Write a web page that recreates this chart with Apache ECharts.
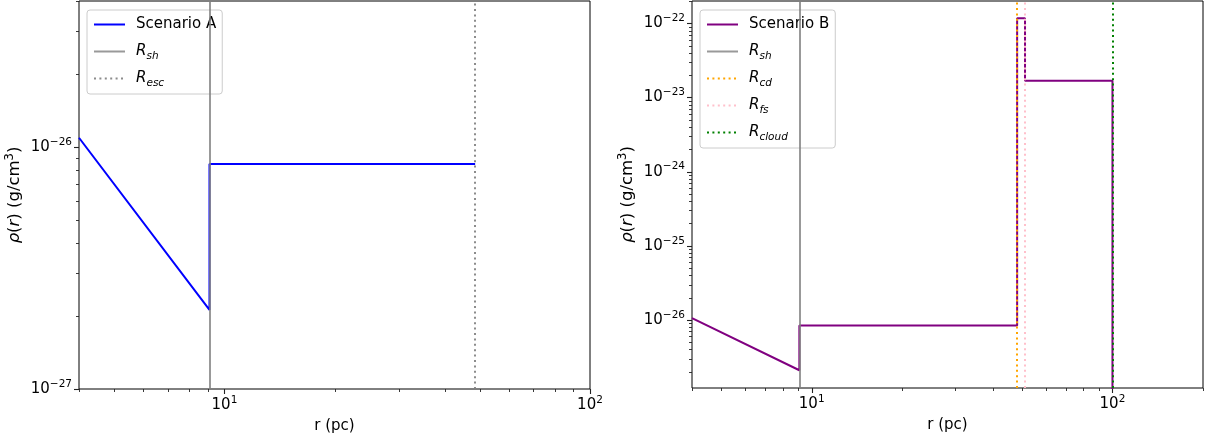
<!DOCTYPE html>
<html><head><meta charset="utf-8">
<script src="https://cdn.jsdelivr.net/npm/echarts@6/dist/echarts.min.js"></script>
<style>html,body{margin:0;padding:0;background:#fff}#c{width:1210px;height:445px}</style>
</head><body><div id="c"></div>
<script>
// ---- data (r in pc, rho in g/cm^3) ----
const A_R   = [4, 9.1, 9.1, 48.5];
const A_RHO = [1.09e-26, 2.12e-27, 8.5e-27, 8.5e-27];
const B_R   = [4, 9.1, 9.1, 48.2, 48.2, 51.2, 51.2, 100, 100];
const B_RHO = [1.06e-26, 2.1e-27, 8.4e-27, 8.4e-27, 1.17e-22, 1.17e-22, 1.68e-23, 1.68e-23, 1e-30];
const A_VLINE_NAMES = ['R_sh', 'R_esc'];
const A_VLINE_R     = [9.1, 48.5];
const B_VLINE_NAMES = ['R_sh', 'R_cd', 'R_fs', 'R_cloud'];
const B_VLINE_R     = [9.1, 48.2, 51.2, 100];
const X_RANGE_A = [4, 100];
const X_RANGE_B = [4, 200];
const Y_RANGE_A = [1e-27, 4e-26];
const Y_RANGE_B = [1.21e-27, 2.0e-22];

// ---- styling ----
const FONT = 'DejaVu Sans';
const FS = 15, FS_SMALL = 10.5;
const SCALE = 1e27; // plotting unit: 1e-27 g/cm^3 (avoids float rounding in log ticks)
const VSTYLE = {
  R_sh:    {color: '#808080', type: 'solid', opacity: 0.8},
  R_esc:   {color: '#808080', type: [2, 3.4], opacity: 0.9},
  R_cd:    {color: '#ffa500', type: [2, 3.4], opacity: 1},
  R_fs:    {color: '#ffc0cb', type: [2, 3.4], opacity: 1},
  R_cloud: {color: '#008000', type: [2, 3.4], opacity: 1}
};
const GRIDS = [
  {left: 79, top: 1, width: 511, height: 388},
  {left: 692, top: 1, width: 511, height: 387}
];

function rich(fs, fss){
  return {
    sup: {fontSize: fss, fontFamily: FONT, color: '#000', lineHeight: 12, verticalAlign: 'top'},
    it:  {fontSize: fs, fontFamily: FONT, color: '#000', fontStyle: 'italic', lineHeight: 21},
    sub: {fontSize: fss, fontFamily: FONT, color: '#000', fontStyle: 'italic', lineHeight: 10, verticalAlign: 'bottom'},
    n:   {fontSize: fs, fontFamily: FONT, color: '#000', lineHeight: 21}
  };
}
const richBase = rich(FS, FS_SMALL);
const richName = rich(16.5, 11.5);

function isPow(v){ const e = Math.log10(v); return Math.abs(e - Math.round(e)) < 1e-6; }
function xLabel(v){ if (!isPow(v)) return ''; return '{n|10}{sup|' + Math.round(Math.log10(v)) + '}'; }
function yLabel(v){ if (!isPow(v)) return ''; const e = Math.round(Math.log10(v)) - 27; return '{n|10}{sup|' + (e < 0 ? '\u2212' + (-e) : e) + '}'; }
function legendFmt(name){ return name.indexOf('R_') === 0 ? '{it|R}{sub|' + name.slice(2) + '}' : '{n|' + name + '}'; }

function xAxis(i, range){
  return {
    type: 'log', logBase: 10, gridIndex: i, min: range[0], max: range[1],
    axisLine: {show: false}, axisTick: {show: false}, splitLine: {show: false}, minorTick: {show: false},
    axisLabel: {formatter: xLabel, margin: 6, rich: richBase, fontFamily: FONT, fontSize: FS, color: '#000'},
    name: 'r (pc)', nameLocation: 'middle', nameGap: 30,
    nameTextStyle: {fontFamily: FONT, fontSize: FS, color: '#000'}
  };
}
function yAxis(i, range){
  return {
    type: 'log', logBase: 10, gridIndex: i, min: range[0] * SCALE, max: range[1] * SCALE,
    axisLine: {show: false}, axisTick: {show: false}, splitLine: {show: false}, minorTick: {show: false},
    axisLabel: {formatter: yLabel, margin: 7, rich: richBase, fontFamily: FONT, fontSize: FS, color: '#000'},
    name: '{it|\u03c1}{n|(}{it|r}{n|) (g/cm}{sup|3}{n|)}', nameLocation: 'middle', nameGap: 54,
    nameTextStyle: {fontFamily: FONT, fontSize: 16.5, color: '#000', rich: richName}
  };
}

function mainSeries(name, rs, rhos, color, idx){
  return {
    type: 'line', name: name, xAxisIndex: idx, yAxisIndex: idx,
    data: rs.map((r, k) => [r, rhos[k] * SCALE]),
    symbol: 'none', clip: true, animation: false, silent: true,
    lineStyle: {color: color, width: 2}, itemStyle: {color: color}, z: 2
  };
}
function vSeries(name, r, idx){
  const s = VSTYLE[name];
  const ls = {color: s.color, width: 2, type: s.type, opacity: s.opacity};
  return {
    type: 'line', name: name, xAxisIndex: idx, yAxisIndex: idx, data: [],
    symbol: 'none', animation: false, silent: true,
    lineStyle: ls, itemStyle: {color: s.color},
    markLine: {symbol: ['none', 'none'], silent: true, animation: false, label: {show: false},
      lineStyle: ls, emphasis: {disabled: true}, data: [{xAxis: r}]},
    z: 3
  };
}

function legend(idx, names, left){
  return {
    show: true, orient: 'vertical', left: left, top: 10, data: names,
    itemWidth: 31, itemHeight: 14, itemGap: 6, padding: [4, 6, 5, 6],
    backgroundColor: 'rgba(255,255,255,0.8)', borderColor: '#cccccc', borderWidth: 1, borderRadius: 3,
    formatter: legendFmt, selectedMode: false,
    itemStyle: {color: 'transparent', borderColor: 'transparent', borderWidth: 0, opacity: 0},
    textStyle: {fontFamily: FONT, fontSize: FS, color: '#000', lineHeight: 21, padding: [0, 0, 0, 6], rich: richBase}
  };
}

const series = [mainSeries('Scenario A', A_R, A_RHO, '#0000ff', 0)];
A_VLINE_NAMES.forEach((n, k) => series.push(vSeries(n, A_VLINE_R[k], 0)));
series.push(mainSeries('Scenario B', B_R, B_RHO, '#800080', 1));
B_VLINE_NAMES.forEach((n, k) => series.push(vSeries(n, B_VLINE_R[k], 1)));

const chart = echarts.init(document.getElementById('c'), null, {renderer: 'canvas'});
chart.setOption({
  backgroundColor: '#fff', animation: false,
  textStyle: {fontFamily: FONT},
  grid: GRIDS.map(g => Object.assign({show: true, borderColor: '#000', borderWidth: 1, backgroundColor: 'transparent'}, g)),
  xAxis: [xAxis(0, X_RANGE_A), xAxis(1, X_RANGE_B)],
  yAxis: [yAxis(0, Y_RANGE_A), yAxis(1, Y_RANGE_B)],
  legend: [legend(0, ['Scenario A'].concat(A_VLINE_NAMES), 87), legend(1, ['Scenario B'].concat(B_VLINE_NAMES), 700)],
  series: series
});

// ---- log-axis major & minor ticks, positioned by the chart's own scales ----
function tickValues(lo, hi){
  const major = [], minor = [];
  for (let e = Math.floor(Math.log10(lo)) - 1; e <= Math.ceil(Math.log10(hi)); e++) {
    for (let m = 1; m <= 9; m++) {
      const v = m * Math.pow(10, e);
      if (v < lo * 0.9999 || v > hi * 1.0001) continue;
      (m === 1 ? major : minor).push(v);
    }
  }
  return {major, minor};
}
const ticks = [];
const xr = [X_RANGE_A, X_RANGE_B], yr = [Y_RANGE_A.map(v => v * SCALE), Y_RANGE_B.map(v => v * SCALE)];
for (let i = 0; i < 2; i++) {
  const finder = {xAxisIndex: i, yAxisIndex: i};
  const xt = tickValues(xr[i][0], xr[i][1]);
  const yt = tickValues(yr[i][0], yr[i][1]);
  const corner = chart.convertToPixel(finder, [xr[i][0], yr[i][0]]);
  const bottom = corner[1], left = corner[0];
  const add = (vals, len, w, isX) => vals.forEach(v => {
    if (isX) {
      const x = Math.round(chart.convertToPixel(finder, [v, yr[i][0]])[0]) + 0.5;
      ticks.push({type: 'line', silent: true, shape: {x1: x, y1: bottom, x2: x, y2: bottom + len}, style: {stroke: '#222', lineWidth: w}});
    } else {
      const y = Math.round(chart.convertToPixel(finder, [xr[i][0], v])[1]) + 0.5;
      ticks.push({type: 'line', silent: true, shape: {x1: left, y1: y, x2: left - len, y2: y}, style: {stroke: '#222', lineWidth: w}});
    }
  });
  add(xt.major, 5, 1.1, true); add(xt.minor, 3, 0.9, true);
  add(yt.major, 5, 1.1, false); add(yt.minor, 3, 0.9, false);
}
chart.setOption({graphic: {elements: ticks}});
</script></body></html>
